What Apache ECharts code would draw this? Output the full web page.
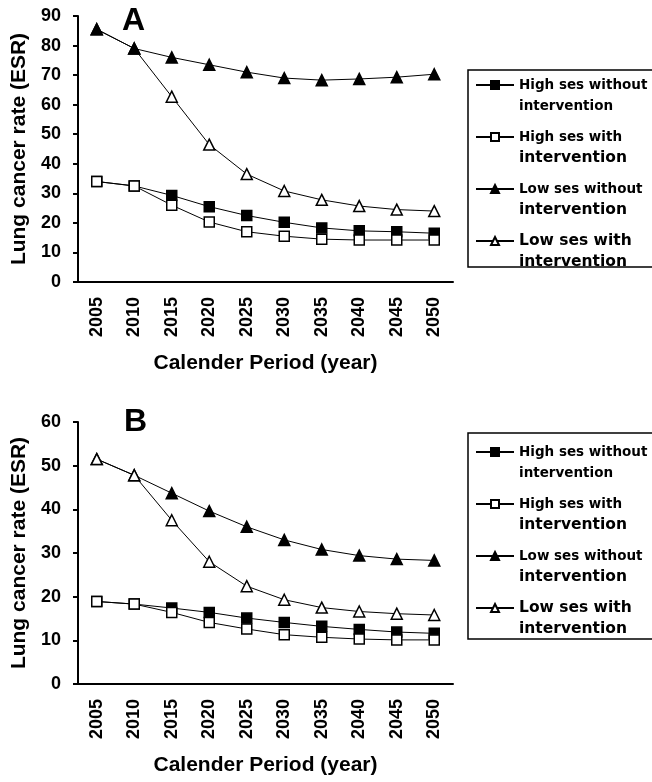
<!DOCTYPE html>
<html>
<head>
    <meta charset="utf-8">
    <title>Lung cancer rate</title>
    <script src="https://cdn.jsdelivr.net/npm/echarts@6/dist/echarts.min.js"></script>
    <style>
        body { margin: 0; background: #fff; }
        #main { width: 652px; height: 782px; }
    </style>
</head>
<body>
    <div id="main"></div>
    <script type="text/javascript">
        // years on the x axis
        var years = ['2005', '2010', '2015', '2020', '2025', '2030', '2035', '2040', '2045', '2050'];

        var seriesNames = [
            'High ses without\nintervention',
            'High ses with\nintervention',
            'Low ses without\nintervention',
            'Low ses with\nintervention'
        ];

        // panel A
        var aHighWithout = [34, 32.5, 29.3, 25.5, 22.5, 20.2, 18.3, 17.3, 17, 16.5];
        var aHighWith = [34, 32.5, 26, 20.3, 17, 15.5, 14.5, 14.2, 14.2, 14.2];
        var aLowWithout = [85.5, 79, 76, 73.5, 71, 69, 68.3, 68.7, 69.3, 70.3];
        var aLowWith = [85.5, 79, 62.7, 46.5, 36.5, 30.8, 27.8, 25.7, 24.5, 24];

        // panel B
        var bHighWithout = [18.9, 18.3, 17.4, 16.4, 15.1, 14.1, 13.2, 12.5, 11.9, 11.6];
        var bHighWith = [18.9, 18.3, 16.4, 14.1, 12.6, 11.3, 10.7, 10.3, 10.1, 10.1];
        var bLowWithout = [51.5, 47.8, 43.7, 39.6, 36, 33, 30.8, 29.4, 28.6, 28.3];
        var bLowWith = [51.5, 47.8, 37.5, 28, 22.4, 19.3, 17.5, 16.6, 16.1, 15.8];

        var myChart = echarts.init(document.getElementById('main'));

        var axisFont = 'Liberation Sans, Arial, sans-serif';
        var legendFont = 'DejaVu Sans, Verdana, sans-serif';

        // the legend lines in the original are not all the same size
        var legendStyles = [['s13', 's13'], ['s13', 's15'], ['s13', 's15'], ['s15', 's15']];

        function xAxisFor(idx) {
            return {
                type: 'category',
                gridIndex: idx,
                data: years,
                boundaryGap: true,
                axisLine: { lineStyle: { color: '#000', width: 2 } },
                axisTick: { length: 5, lineStyle: { color: '#000', width: 2 } },
                axisLabel: {
                    rotate: 90, margin: 15, color: '#000',
                    fontFamily: axisFont, fontWeight: 'bold', fontSize: 18
                },
                name: 'Calender Period (year)',
                nameLocation: 'middle',
                nameGap: 71,
                nameTextStyle: { color: '#000', fontFamily: axisFont, fontWeight: 'bold', fontSize: 21 }
            };
        }

        function yAxisFor(idx, max) {
            return {
                type: 'value',
                gridIndex: idx,
                min: 0,
                max: max,
                interval: 10,
                splitLine: { show: false },
                axisLine: { show: true, lineStyle: { color: '#000', width: 2 } },
                axisTick: { show: true, length: 5, lineStyle: { color: '#000', width: 2 } },
                axisLabel: {
                    margin: 17, color: '#000',
                    fontFamily: axisFont, fontWeight: 'bold', fontSize: 18
                },
                name: 'Lung cancer rate (ESR)',
                nameLocation: 'middle',
                nameGap: 47,
                nameTextStyle: { color: '#000', fontFamily: axisFont, fontWeight: 'bold', fontSize: 21 }
            };
        }

        function line(name, idx, data, symbol, filled) {
            return {
                name: name,
                type: 'line',
                xAxisIndex: idx,
                yAxisIndex: idx,
                data: data,
                symbol: symbol,
                symbolSize: symbol === 'rect' ? 10 : 11,
                showAllSymbol: true,
                lineStyle: { color: '#000', width: 1 },
                itemStyle: { color: filled ? '#000' : '#fff', borderColor: '#000', borderWidth: 1.5 },
                emphasis: { disabled: true },
                animation: false
            };
        }

        function legendFor(idx, top) {
            return {
                left: 475,
                top: top,
                orient: 'vertical',
                padding: 0,
                itemGap: -11,
                itemWidth: 38,
                itemHeight: 10,
                data: seriesNames,
                selectedMode: false,
                formatter: function (n) {
                    var k = seriesNames.indexOf(n);
                    var parts = n.split('\n');
                    return '\n{' + legendStyles[k][0] + '|' + parts[0] + '}\n{' + legendStyles[k][1] + '|' + parts[1] + '}';
                },
                textStyle: {
                    color: '#000', fontFamily: legendFont,
                    fontWeight: 'bold', fontSize: 13, lineHeight: 21,
                    rich: {
                        s13: { color: '#000', fontFamily: legendFont, fontWeight: 'bold', fontSize: 13.5, lineHeight: 21 },
                        s15: { color: '#000', fontFamily: legendFont, fontWeight: 'bold', fontSize: 15.5, lineHeight: 21 }
                    }
                }
            };
        }

        var option = {
            backgroundColor: '#fff',
            animation: false,
            title: [
                { text: 'A', left: 117, top: 0, textStyle: { fontFamily: axisFont, fontWeight: 'bold', fontSize: 32, color: '#000' } },
                { text: 'B', left: 119, top: 401, textStyle: { fontFamily: axisFont, fontWeight: 'bold', fontSize: 32, color: '#000' } }
            ],
            grid: [
                { left: 78, right: 199, top: 16, height: 266 },
                { left: 78, right: 199, top: 422, height: 262 }
            ],
            xAxis: [xAxisFor(0), xAxisFor(1)],
            yAxis: [yAxisFor(0, 90), yAxisFor(1, 60)],
            legend: [legendFor(0, 53.5), legendFor(1, 420.5)],
            graphic: [
                { type: 'rect', shape: { x: 468, y: 70, width: 200, height: 197 }, style: { fill: 'none', stroke: '#000', lineWidth: 1.5 } },
                { type: 'rect', shape: { x: 468, y: 433, width: 200, height: 206 }, style: { fill: 'none', stroke: '#000', lineWidth: 1.5 } }
            ],
            series: [
                line(seriesNames[0], 0, aHighWithout, 'rect', true),
                line(seriesNames[1], 0, aHighWith, 'rect', false),
                line(seriesNames[3], 0, aLowWith, 'triangle', false),
                line(seriesNames[2], 0, aLowWithout, 'triangle', true),
                line(seriesNames[0], 1, bHighWithout, 'rect', true),
                line(seriesNames[1], 1, bHighWith, 'rect', false),
                line(seriesNames[2], 1, bLowWithout, 'triangle', true),
                line(seriesNames[3], 1, bLowWith, 'triangle', false)
            ]
        };

        myChart.setOption(option);
    </script>
</body>
</html>
